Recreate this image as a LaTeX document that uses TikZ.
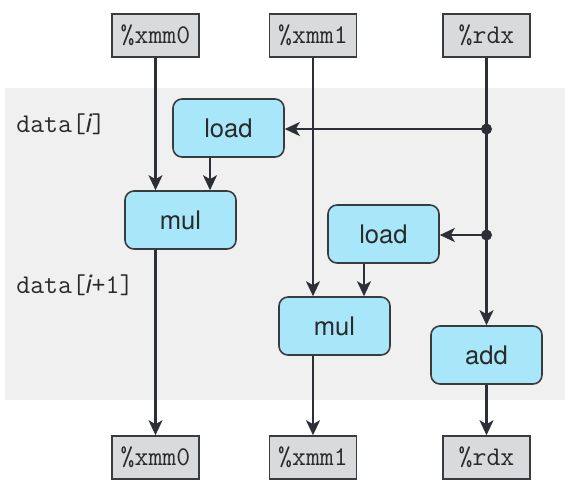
\documentclass[tikz,border=0pt]{standalone}
\usepackage{fontspec}
\setsansfont{TeX Gyre Heros}
\usetikzlibrary{arrows.meta,calc}
\definecolor{bggray}{HTML}{F0F0F0}
\definecolor{regfill}{HTML}{D9DADC}
\definecolor{opfill}{HTML}{A8E7F9}
\definecolor{edgecol}{HTML}{3A3B3E}
\definecolor{arrcol}{HTML}{2D2F36}
\definecolor{txtcol}{HTML}{2A2A2A}
\begin{document}
\begin{tikzpicture}[x=0.5pt,y=-0.5pt,
  reg/.style={draw=edgecol,line width=0.8pt,fill=regfill,minimum width=43.5pt,minimum height=21.5pt,inner sep=0pt,font=\ttfamily\fontsize{13.5}{16}\selectfont,text=txtcol},
  op/.style={draw=edgecol,line width=0.8pt,fill=opfill,rounded corners=4.5pt,minimum width=55.5pt,minimum height=29pt,inner sep=0pt,font=\sffamily\fontsize{12.8}{15}\selectfont,text=txtcol},
  lbl/.style={anchor=west,inner sep=0pt,font=\ttfamily\fontsize{13.5}{16}\selectfont,text=txtcol},
  arr/.style={draw=arrcol,line width=1.15pt,-{Stealth[length=7.5pt,width=7pt,inset=2pt]}},
  junc/.style={circle,fill=arrcol,inner sep=0pt,minimum size=5.5pt}]
\useasboundingbox (0,0) rectangle (572,484);
\fill[bggray] (5,88) rectangle (565,400);
% registers
\node[reg] (xmm0T) at (155.5,35.5) {\%xmm0};
\node[reg] (xmm1T) at (313,35.5) {\%xmm1};
\node[reg] (rdxT) at (486.5,35.5) {\%rdx};
\node[reg] (xmm0B) at (155.5,457.5) {\%xmm0};
\node[reg] (xmm1B) at (313,457.5) {\%xmm1};
\node[reg] (rdxB) at (486.5,457.5) {\%rdx};
% operations
\node[op] (load1) at (228.5,128) {load};
\node[op] (mul1) at (180.5,220) {mul};
\node[op] (load2) at (383.5,234) {load};
\node[op] (mul2) at (334.5,326) {mul};
\node[op] (add) at (486.5,355) {add};
% labels
\node[lbl] (lab1) at (16,124) {data[{\sffamily\itshape\fontsize{13}{15}\selectfont i}]};
\node[lbl] (lab2) at (16,285) {data[{\sffamily\itshape\fontsize{13}{15}\selectfont i}+1]};
% junctions
\node[junc] (j1) at (486.5,129) {};
\node[junc] (j2) at (486.5,235) {};
\coordinate (c210) at (210,0);
\coordinate (c364) at (364,0);
% connectors
\draw[arr] (xmm0T.south) -- (xmm0T.south |- mul1.north);
\draw[arr] (load1.south -| c210) -- (mul1.north -| c210);
\draw[arr] (xmm1T.south) -- (xmm1T.south |- mul2.north);
\draw[arr] (load2.south -| c364) -- (mul2.north -| c364);
\draw[arr] (rdxT.south) -- (add.north);
\draw[arr] (j1.center) -- (load1.east |- j1.center);
\draw[arr] (j2.center) -- (load2.east |- j2.center);
\draw[arr] (mul1.south -| xmm0B.north) -- (xmm0B.north);
\draw[arr] (mul2.south -| xmm1B.north) -- (xmm1B.north);
\draw[arr] (add.south) -- (rdxB.north);
\end{tikzpicture}
\end{document}
